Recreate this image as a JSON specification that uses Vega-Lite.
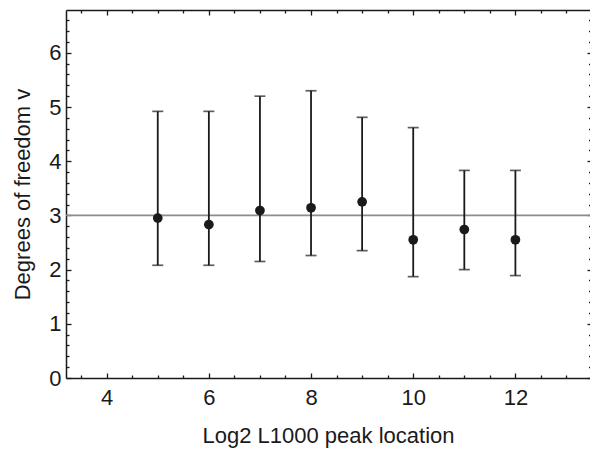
{
  "$schema": "https://vega.github.io/schema/vega-lite/v6.json",
  "width": 524,
  "height": 368,
  "autosize": {"type": "none"},
  "padding": {"left": 66, "top": 10, "right": 0, "bottom": 72},
  "background": "white",
  "config": {
    "view": {"stroke": null},
    "axis": {
      "grid": false,
      "labelFont": "Liberation Sans",
      "titleFont": "Liberation Sans",
      "labelFontSize": 22,
      "titleFontSize": 22,
      "titleFontWeight": "normal",
      "labelColor": "#1a1a1a",
      "titleColor": "#1a1a1a",
      "domainColor": "#1a1a1a",
      "tickColor": "#1a1a1a",
      "domainWidth": 1.5,
      "tickWidth": 1.3
    }
  },
  "data": {
    "values": [
      {"loc": 5, "nu": 2.95, "lo": 2.08, "hi": 4.92},
      {"loc": 6, "nu": 2.83, "lo": 2.08, "hi": 4.92},
      {"loc": 7, "nu": 3.09, "lo": 2.15, "hi": 5.2},
      {"loc": 8, "nu": 3.14, "lo": 2.26, "hi": 5.3},
      {"loc": 9, "nu": 3.25, "lo": 2.35, "hi": 4.81},
      {"loc": 10, "nu": 2.55, "lo": 1.87, "hi": 4.62},
      {"loc": 11, "nu": 2.74, "lo": 2.0, "hi": 3.83},
      {"loc": 12, "nu": 2.55, "lo": 1.89, "hi": 3.83}
    ]
  },
  "resolve": {"axis": {"x": "independent", "y": "independent"}},
  "layer": [
    {
      "data": {"values": [{"ref": 3}]},
      "mark": {"type": "rule", "color": "#8c8c8c", "strokeWidth": 1.6},
      "encoding": {
        "y": {
          "field": "ref", "type": "quantitative",
          "scale": {"domain": [0, 6.79], "nice": false, "zero": false},
          "axis": {"orient": "left", "values": [0, 1, 2, 3, 4, 5, 6], "tickSize": -5, "labelPadding": 10, "title": "Degrees of freedom v", "titlePadding": 14, "domain": true}
        }
      }
    },
    {
      "mark": {"type": "rule", "color": "#1a1a1a", "strokeWidth": 1.8},
      "encoding": {
        "x": {
          "field": "loc", "type": "quantitative",
          "scale": {"domain": [3.204, 13.46], "nice": false, "zero": false},
          "axis": {"orient": "bottom", "values": [4, 6, 8, 10, 12], "tickSize": -5, "labelPadding": 14, "title": "Log2 L1000 peak location", "titlePadding": 17, "domain": true}
        },
        "y": {"field": "lo", "type": "quantitative", "scale": {"domain": [0, 6.79], "nice": false, "zero": false}, "axis": null},
        "y2": {"field": "hi"}
      }
    },
    {
      "mark": {"type": "tick", "orient": "horizontal", "color": "#1a1a1a", "size": 11, "thickness": 1.7},
      "encoding": {
        "x": {"field": "loc", "type": "quantitative", "scale": {"domain": [3.204, 13.46], "nice": false, "zero": false}, "axis": null},
        "y": {"field": "lo", "type": "quantitative", "scale": {"domain": [0, 6.79], "nice": false, "zero": false}, "axis": null}
      }
    },
    {
      "mark": {"type": "tick", "orient": "horizontal", "color": "#1a1a1a", "size": 11, "thickness": 1.7},
      "encoding": {
        "x": {"field": "loc", "type": "quantitative", "scale": {"domain": [3.204, 13.46], "nice": false, "zero": false}, "axis": null},
        "y": {"field": "hi", "type": "quantitative", "scale": {"domain": [0, 6.79], "nice": false, "zero": false}, "axis": null}
      }
    },
    {
      "mark": {"type": "point", "filled": true, "color": "#1a1a1a", "opacity": 1, "size": 95},
      "encoding": {
        "x": {"field": "loc", "type": "quantitative", "scale": {"domain": [3.204, 13.46], "nice": false, "zero": false}, "axis": null},
        "y": {"field": "nu", "type": "quantitative", "scale": {"domain": [0, 6.79], "nice": false, "zero": false}, "axis": null}
      }
    },
    {
      "mark": {"type": "point", "opacity": 0},
      "encoding": {
        "x": {"field": "loc", "type": "quantitative", "scale": {"domain": [3.204, 13.46], "nice": false, "zero": false},
          "axis": {"orient": "bottom", "values": [3.5, 4.5, 5, 5.5, 6.5, 7, 7.5, 8.5, 9, 9.5, 10.5, 11, 11.5, 12.5, 13], "tickSize": -3, "labels": false, "domain": false, "title": null}},
        "y": {"field": "nu", "type": "quantitative", "scale": {"domain": [0, 6.79], "nice": false, "zero": false},
          "axis": {"orient": "left", "values": [0.2, 0.4, 0.6, 0.8, 1.2, 1.4, 1.6, 1.8, 2.2, 2.4, 2.6, 2.8, 3.2, 3.4, 3.6, 3.8, 4.2, 4.4, 4.6, 4.8, 5.2, 5.4, 5.6, 5.8, 6.2, 6.4, 6.6], "tickSize": -3, "labels": false, "domain": false, "title": null}}
      }
    },
    {
      "mark": {"type": "point", "opacity": 0},
      "encoding": {
        "x": {"field": "loc", "type": "quantitative", "scale": {"domain": [3.204, 13.46], "nice": false, "zero": false},
          "axis": {"orient": "top", "values": [4, 6, 8, 10, 12], "tickSize": -5, "labels": false, "domain": true, "title": null}},
        "y": {"field": "nu", "type": "quantitative", "scale": {"domain": [0, 6.79], "nice": false, "zero": false},
          "axis": {"orient": "right", "values": [0, 1, 2, 3, 4, 5, 6], "tickSize": -3, "labels": false, "domain": false, "title": null}}
      }
    },
    {
      "mark": {"type": "point", "opacity": 0},
      "encoding": {
        "x": {"field": "loc", "type": "quantitative", "scale": {"domain": [3.204, 13.46], "nice": false, "zero": false},
          "axis": {"orient": "top", "values": [3.5, 4.5, 5, 5.5, 6.5, 7, 7.5, 8.5, 9, 9.5, 10.5, 11, 11.5, 12.5, 13], "tickSize": -3, "labels": false, "domain": false, "title": null}},
        "y": {"field": "nu", "type": "quantitative", "scale": {"domain": [0, 6.79], "nice": false, "zero": false},
          "axis": {"orient": "right", "values": [0.2, 0.4, 0.6, 0.8, 1.2, 1.4, 1.6, 1.8, 2.2, 2.4, 2.6, 2.8, 3.2, 3.4, 3.6, 3.8, 4.2, 4.4, 4.6, 4.8, 5.2, 5.4, 5.6, 5.8, 6.2, 6.4, 6.6], "tickSize": -1.5, "labels": false, "domain": false, "title": null}}
      }
    }
  ]
}
